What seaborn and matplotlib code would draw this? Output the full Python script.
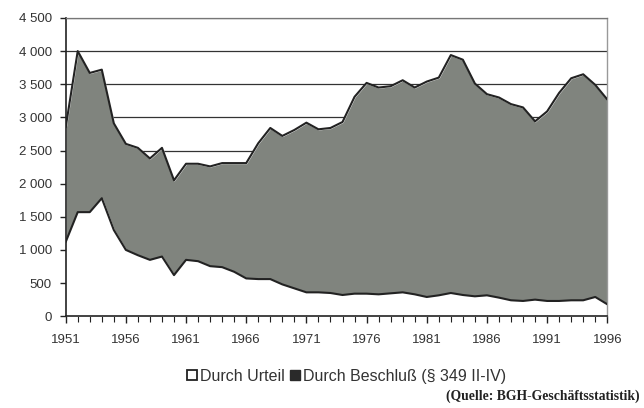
import matplotlib
matplotlib.use("Agg")
import matplotlib.pyplot as plt
from matplotlib.patches import Patch
from matplotlib.ticker import MultipleLocator, FuncFormatter
import seaborn as sns
import numpy as np
import pandas as pd

years = list(range(1951, 1997))
total = [2850, 4000, 3670, 3720, 2910, 2600, 2540, 2380, 2540, 2050,
         2300, 2300, 2260, 2310, 2310, 2310, 2610, 2840, 2720, 2810,
         2920, 2820, 2840, 2930, 3310, 3520, 3450, 3470, 3560, 3450,
         3540, 3600, 3940, 3870, 3510, 3350, 3300, 3200, 3150, 2940,
         3090, 3370, 3590, 3650, 3490, 3270]
urteil = [1120, 1570, 1570, 1780, 1300, 1000, 920, 850, 900, 620,
          850, 830, 755, 740, 670, 570, 560, 560, 480, 420,
          360, 360, 350, 320, 340, 340, 330, 345, 360, 330,
          290, 315, 350, 320, 300, 315, 280, 240, 230, 250,
          230, 230, 240, 240, 290, 180]
beschluss = [t - u for t, u in zip(total, urteil)]
labels = ["Durch Urteil", "Durch Beschluß (§ 349 II-IV)"]
source = "(Quelle: BGH-Geschäftsstatistik)"

df = pd.DataFrame({"Jahr": years, "Urteil": urteil, "Gesamt": total})

sns.set_style("white")
plt.rcParams["font.family"] = ["Liberation Sans", "DejaVu Sans"]

fig = plt.figure(figsize=(6.44, 4.08), dpi=100)
ax = fig.add_axes([0.102, 0.225, 0.841, 0.731])

gray = "#80847e"
ax.stackplot(df["Jahr"], urteil, beschluss, colors=["white", gray], zorder=2)
sns.lineplot(data=df, x="Jahr", y="Urteil", color="#222222", lw=1.5, ax=ax, zorder=3)
sns.lineplot(data=df, x="Jahr", y="Gesamt", color="#222222", lw=1.5, ax=ax, zorder=3)

ax.set_xlim(1951, 1996)
ax.set_ylim(0, 4500)
ax.yaxis.set_major_locator(MultipleLocator(500))
ax.yaxis.set_major_formatter(FuncFormatter(lambda v, p: f"{int(v):,}".replace(",", " ")))
ax.set_xticks(list(range(1951, 1997, 5)))
ax.xaxis.set_minor_locator(MultipleLocator(1))
ax.grid(axis="y", color="#333333", lw=0.9, zorder=1)
ax.set_axisbelow(True)
ax.set_xlabel("")
ax.set_ylabel("")

ax.spines["top"].set_color("#777777")
ax.spines["top"].set_linewidth(0.9)
ax.spines["right"].set_color("#999999")
ax.spines["right"].set_linewidth(1.0)
ax.spines["left"].set_color("#222222")
ax.spines["left"].set_linewidth(1.2)
ax.spines["bottom"].set_color("#222222")
ax.spines["bottom"].set_linewidth(1.2)

ax.tick_params(axis="y", which="major", left=True, length=4, width=1, color="#222222",
               labelsize=9.5, labelcolor="#333333", pad=6)
ax.tick_params(axis="x", which="major", bottom=True, length=5, width=1, color="#222222",
               labelsize=9.5, labelcolor="#333333", pad=8)
ax.tick_params(axis="x", which="minor", bottom=True, length=4, width=0.8, color="#222222")

handles = [Patch(facecolor="white", edgecolor="#222222", lw=1.3),
           Patch(facecolor="#2a2a2a", edgecolor="#2a2a2a")]
fig.legend(handles, labels, loc="center", bbox_to_anchor=(0.538, 0.078), ncol=2,
           frameon=False, fontsize=11.5, handlelength=0.65, handleheight=0.65,
           handletextpad=0.2, columnspacing=0.3, labelcolor="#333333")

fig.text(0.993, 0.028, source, ha="right", va="center", fontsize=9.8,
         fontweight="bold", family=["Liberation Serif", "DejaVu Serif"], color="#222222")

fig.savefig("out.png", dpi=100)
